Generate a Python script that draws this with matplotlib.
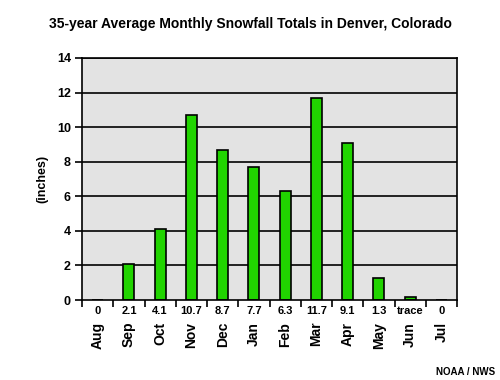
import matplotlib.pyplot as plt
import numpy as np
from matplotlib.ticker import FixedLocator, NullFormatter

plt.rcParams['font.family'] = ['Liberation Sans', 'DejaVu Sans']
plt.rcParams['font.weight'] = 'bold'

# 月份与降雪量
months = ['Aug', 'Sep', 'Oct', 'Nov', 'Dec', 'Jan', 'Feb', 'Mar', 'Apr', 'May', 'Jun', 'Jul']
snow = [0, 2.1, 4.1, 10.7, 8.7, 7.7, 6.3, 11.7, 9.1, 1.3, 0.15, 0]
value_labels = ['0', '2.1', '4.1', '10.7', '8.7', '7.7', '6.3', '11.7', '9.1', '1.3', 'trace', '0']
yticks = [0, 2, 4, 6, 8, 10, 12, 14]

fig = plt.figure(figsize=(5, 3.8), dpi=100)
ax = fig.add_axes([0.164, 0.2105, 0.75, 0.637])
ax.set_facecolor('#e3e3e3')

x = np.arange(len(months))
for y in yticks[1:]:
    ax.axhline(y, color='black', lw=1.2, zorder=1)
ax.bar(x, snow, width=0.35, color='#21d400', edgecolor='black', linewidth=1.2, zorder=2)

ax.set_xlim(-0.5, 11.5)
ax.set_ylim(0, 14)
ax.set_yticks(yticks)
ax.tick_params(axis='y', length=5, width=1.2, labelsize=9, pad=3)

# 类别边界上的刻度
ax.xaxis.set_major_locator(FixedLocator([]))
ax.xaxis.set_minor_locator(FixedLocator(np.arange(-0.5, 12, 1)))
ax.xaxis.set_minor_formatter(NullFormatter())
ax.tick_params(axis='x', which='minor', length=5, width=1.2, direction='out')

for s in ax.spines.values():
    s.set_linewidth(1.2)

trans = ax.get_xaxis_transform()
for i in range(len(months)):
    ax.text(x[i], -0.045, value_labels[i], transform=trans, ha='center', va='center',
            fontsize=8, fontweight='bold')
    ax.text(x[i], -0.09, months[i], transform=trans, ha='center', va='top',
            rotation=90, fontsize=10, fontweight='bold')

ax.set_ylabel('(inches)', fontsize=9, fontweight='bold', labelpad=6)
fig.text(0.5, 0.937, '35-year Average Monthly Snowfall Totals in Denver, Colorado',
         ha='center', va='center', fontsize=10, fontweight='bold')
fig.text(0.99, 0.022, 'NOAA / NWS', ha='right', va='center', fontsize=7, fontweight='bold')

fig.savefig('out.png', dpi=100)
